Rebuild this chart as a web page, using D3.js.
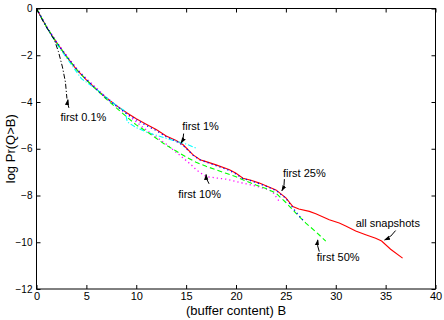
<!DOCTYPE html>
<html>
<head>
<meta charset="utf-8">
<script src="https://cdn.jsdelivr.net/npm/d3@7"></script>
<style>
  body { margin: 0; background: #fff; }
  text { font-family: "Liberation Sans", Arial, Helvetica, sans-serif; fill: #000; }
</style>
</head>
<body>
<div id="chart"></div>
<script>
// buffer content B, per series, and log Pr(Q>B)
var redB = [0, 0.5, 1, 1.5, 2, 3, 4, 5, 6, 7, 8, 9, 10, 11, 12, 13, 14, 14.7, 15.7, 16.4, 17, 18, 19.35, 20, 20.7, 21.5, 22.35, 23, 24, 25, 25.7, 26.3, 27.35, 28, 29.35, 30.35, 31, 32, 33, 34, 34.6, 35.5, 36.7];
var redV = [0, -0.4, -0.78, -1.12, -1.45, -2.05, -2.6, -3.05, -3.45, -3.82, -4.15, -4.45, -4.72, -4.95, -5.18, -5.45, -5.65, -5.83, -6.26, -6.47, -6.55, -6.69, -6.9, -7.05, -7.26, -7.35, -7.47, -7.58, -7.76, -8.1, -8.47, -8.58, -8.68, -8.78, -9.04, -9.18, -9.3, -9.52, -9.68, -9.83, -9.95, -10.3, -10.68];

var blueB = [0, 1, 2, 3, 4, 5, 6, 7, 8, 9, 10, 11, 12, 13, 14, 14.7, 15.7, 16.4, 17, 18, 19.35, 20, 20.7, 21.5, 22.35, 23, 24, 25, 25.4, 26, 26.7];
var blueV = [0, -0.78, -1.44, -2.04, -2.58, -3.04, -3.46, -3.84, -4.17, -4.48, -4.76, -5.0, -5.22, -5.48, -5.68, -5.86, -6.28, -6.48, -6.57, -6.72, -6.93, -7.08, -7.28, -7.37, -7.5, -7.6, -7.78, -8.12, -8.35, -8.7, -9.05];

var greenB = [0, 1, 2, 3, 4, 5, 6, 7, 8, 9, 10, 11, 12, 13, 14, 15, 16, 17, 18, 19, 20, 21, 22, 23, 24, 25, 26, 27, 28, 29];
var greenV = [0, -0.78, -1.45, -2.05, -2.6, -3.05, -3.47, -3.88, -4.25, -4.62, -4.98, -5.25, -5.55, -5.85, -6.1, -6.35, -6.58, -6.75, -6.9, -7.05, -7.2, -7.38, -7.55, -7.7, -7.9, -8.3, -8.75, -9.18, -9.55, -9.95];

var magentaB = [0, 1, 2, 3, 4, 5, 6, 7, 8, 9, 10, 11, 12, 13, 14, 15, 15.7, 16, 17, 18, 19, 20, 21, 22, 23, 23.65, 24.35];
var magentaV = [0, -0.76, -1.42, -2.0, -2.55, -3.0, -3.4, -3.8, -4.15, -4.5, -4.85, -5.2, -5.5, -5.8, -6.15, -6.5, -6.76, -6.9, -7.19, -7.25, -7.3, -7.4, -7.5, -7.6, -7.72, -7.83, -8.26];

var cyanB = [0, 1, 2, 3, 4, 4.5, 5, 6, 7, 8, 8.9, 9.1, 10, 11, 12, 13, 14, 15, 16];
var cyanV = [0, -0.8, -1.5, -2.1, -2.7, -3.0, -3.15, -3.45, -3.8, -4.15, -4.4, -4.85, -5.1, -5.28, -5.42, -5.55, -5.68, -5.8, -5.97];

var blackB = [0, 0.5, 1, 1.5, 1.8, 2.2, 2.6, 2.9, 3.05];
var blackV = [0, -0.42, -0.8, -1.15, -1.35, -1.85, -2.5, -3.15, -3.85];

var xTicks = [0, 5, 10, 15, 20, 25, 30, 35, 40];
var yTicks = [0, -2, -4, -6, -8, -10, -12];

// label text, anchor (B, logP) for the text, arrow tail and head in data units
var labelText = ["first 0.1%", "first 1%", "first 10%", "first 25%", "all snapshots", "first 50%"];
var labelPos = [[2.4, -4.8], [14.6, -5.2], [14.2, -8.1], [24.7, -7.2], [32, -9.35], [28.1, -10.8]];
var arrowFrom = [[3.25, -4.25], [14.75, -5.35], [17.3, -7.5], [24.85, -7.3], [36, -9.5], [28.35, -10.4]];
var arrowTo = [[3.15, -3.9], [14.5, -5.75], [17.0, -7.1], [24.6, -7.8], [34.9, -9.9], [28.2, -9.9]];

var width = 444,
    height = 320;
var pLeft = 36.5, pRight = 435.5, pTop = 8.5, pBottom = 289;

var x = d3.scaleLinear().domain([0, 40]).range([pLeft, pRight]);
var y = d3.scaleLinear().domain([-12, 0]).range([pBottom, pTop]);

var svg = d3.select("#chart").append("svg").attr("width", width).attr("height", height);

function series(bs, vs) {
    return bs.map(function(b, i) { return [b, vs[i]]; });
}
var line = d3.line().x(function(d) { return x(d[0]); }).y(function(d) { return y(d[1]); });

var curves = [
    { data: series(redB, redV), color: "#ff0000", dash: null, w: 1.1 },
    { data: series(magentaB, magentaV), color: "#ff00ff", dash: "1.2,3", w: 1.3 },
    { data: series(cyanB, cyanV), color: "#00ffff", dash: "5,2,1.2,2", w: 1.1 },
    { data: series(greenB, greenV), color: "#00ff00", dash: "5,3", w: 1.1 },
    { data: series(blueB, blueV), color: "#0000ff", dash: "1.2,3", w: 1.3 },
    { data: series(blackB, blackV), color: "#000000", dash: "5,2,1.2,2", w: 1 }
];

svg.selectAll(".curve").data(curves).enter().append("path")
    .attr("class", "curve")
    .attr("d", function(d) { return line(d.data); })
    .attr("fill", "none")
    .attr("stroke", function(d) { return d.color; })
    .attr("stroke-width", function(d) { return d.w; })
    .attr("stroke-dasharray", function(d) { return d.dash; });

// axes, MATLAB style box with inward ticks
var fs = "11px";
var gx = svg.append("g").attr("transform", "translate(0," + pBottom + ")")
    .call(d3.axisBottom(x).tickValues(xTicks).tickSizeInner(-4).tickSizeOuter(0).tickPadding(3));
var gy = svg.append("g").attr("transform", "translate(" + pLeft + ",0)")
    .call(d3.axisLeft(y).tickValues(yTicks).tickSizeInner(-4).tickSizeOuter(0).tickPadding(4));
svg.append("g").attr("transform", "translate(0," + pTop + ")")
    .call(d3.axisTop(x).tickValues(xTicks).tickSizeInner(-4).tickSizeOuter(0).tickFormat(""));
svg.append("g").attr("transform", "translate(" + pRight + ",0)")
    .call(d3.axisRight(y).tickValues(yTicks).tickSizeInner(-4).tickSizeOuter(0).tickFormat(""));
svg.selectAll(".domain").remove();
svg.selectAll(".tick line").attr("stroke", "#000");
svg.selectAll(".tick text").style("font-size", fs).style("font-family", "'Liberation Sans', Arial, sans-serif");
gy.selectAll(".tick text").style("font-size", "10px");

svg.append("rect")
    .attr("x", pLeft).attr("y", pTop)
    .attr("width", pRight - pLeft).attr("height", pBottom - pTop)
    .attr("fill", "none").attr("stroke", "#000").attr("stroke-width", 1);

svg.append("text").attr("x", (pLeft + pRight) / 2).attr("y", 315)
    .attr("text-anchor", "middle").style("font-size", "13px").text("(buffer content) B");
svg.append("text").attr("transform", "translate(15," + ((pTop + pBottom) / 2) + ") rotate(-90)")
    .attr("text-anchor", "middle").style("font-size", "13px").text("log Pr(Q>B)");

// annotations
svg.append("defs").append("marker")
    .attr("id", "head").attr("viewBox", "0 0 10 10").attr("refX", 9).attr("refY", 5)
    .attr("markerWidth", 6).attr("markerHeight", 6).attr("orient", "auto")
    .append("path").attr("d", "M0,1.5L10,5L0,8.5Z").attr("fill", "#000");

labelText.forEach(function(t, i) {
    svg.append("text").attr("x", x(labelPos[i][0])).attr("y", y(labelPos[i][1]))
        .style("font-size", fs).text(t);
    var x0 = x(arrowFrom[i][0]), y0 = y(arrowFrom[i][1]),
        x1 = x(arrowTo[i][0]), y1 = y(arrowTo[i][1]);
    var mx = (x0 + x1) / 2 + (y1 - y0) * 0.15, my = (y0 + y1) / 2 - (x1 - x0) * 0.15;
    svg.append("path")
        .attr("d", "M" + x0 + "," + y0 + "Q" + mx + "," + my + " " + x1 + "," + y1)
        .attr("fill", "none").attr("stroke", "#000").attr("stroke-width", 1)
        .attr("marker-end", "url(#head)");
});
</script>
</body>
</html>
